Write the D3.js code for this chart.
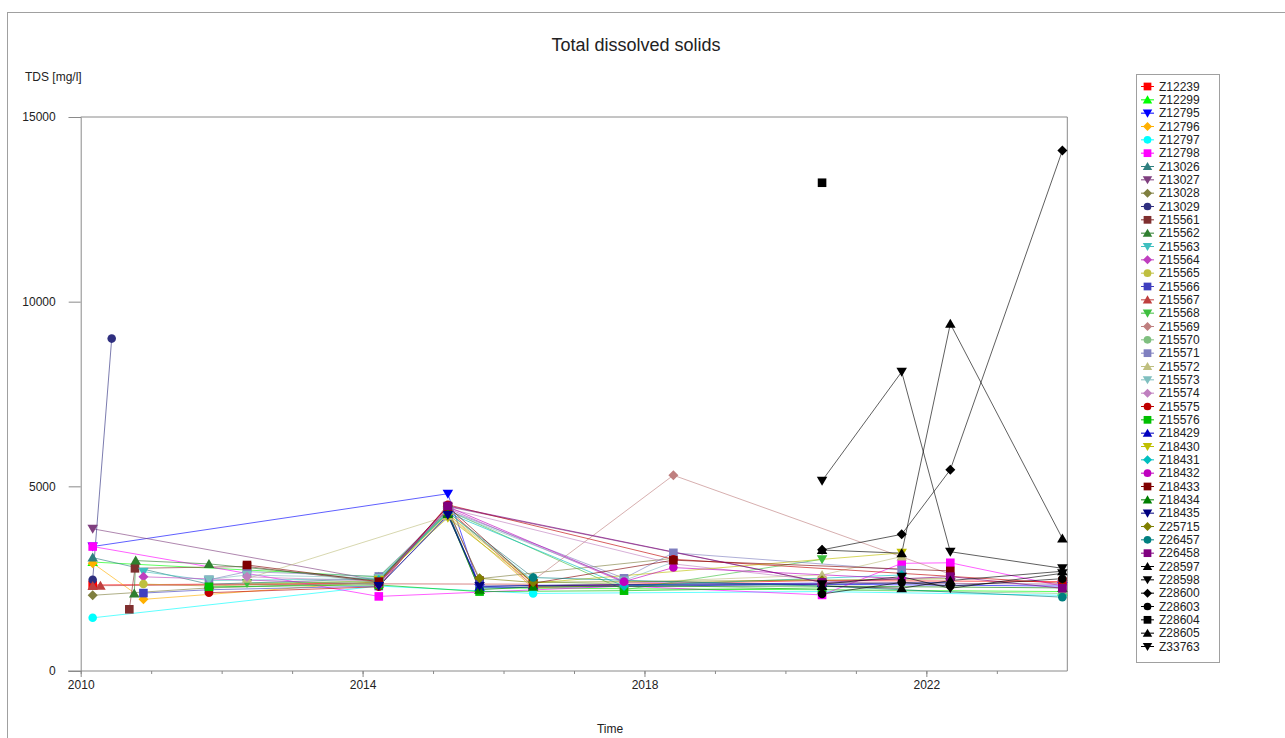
<!DOCTYPE html>
<html>
<head>
<meta charset="utf-8">
<script src="https://cdn.jsdelivr.net/npm/d3@7"></script>
<style>
  html, body { margin: 0; padding: 0; background: #fff; }
  svg { display: block; font-family: "Liberation Sans", Arial, sans-serif; }
</style>
</head>
<body>
<svg id="chart" width="1285" height="738"></svg>
<script>
// Station identifiers, in legend order
const stations = ["Z12239","Z12299","Z12795","Z12796","Z12797","Z12798","Z13026","Z13027","Z13028","Z13029",
  "Z15561","Z15562","Z15563","Z15564","Z15565","Z15566","Z15567","Z15568","Z15569","Z15570",
  "Z15571","Z15572","Z15573","Z15574","Z15575","Z15576","Z18429","Z18430","Z18431","Z18432",
  "Z18433","Z18434","Z18435","Z25715","Z26457","Z26458","Z28597","Z28598","Z28600","Z28603",
  "Z28604","Z28605","Z33763"];

const colors = ["#ff0000","#00ff00","#0000ff","#ffb000","#00ffff","#ff00ff","#2f7f7f","#7f3f7f","#7f7f3f","#2f2f7f",
  "#7f2f2f","#2f7f2f","#3fbfbf","#bf3fbf","#bfbf3f","#3f3fbf","#bf3f3f","#3fbf3f","#bf7f7f","#7fbf7f",
  "#7f7fbf","#bfbf7f","#7fbfbf","#bf7fbf","#bf0000","#00bf00","#0000bf","#bfbf00","#00bfbf","#bf00bf",
  "#7f0000","#007f00","#00007f","#7f7f00","#007f7f","#7f007f","#000000","#000000","#000000","#000000",
  "#000000","#000000","#000000"];

const shapes = ["square","triUp","triDown","diamond","circle","square","triUp","triDown","diamond","circle",
  "square","triUp","triDown","diamond","circle","square","triUp","triDown","diamond","circle",
  "square","triUp","triDown","diamond","circle","square","triUp","triDown","diamond","circle",
  "square","triUp","triDown","diamond","circle","square","triUp","triDown","diamond","circle",
  "square","triUp","triDown"];

// Sample dates (decimal years) and TDS values [mg/l] for each station
const samples = {
  Z12239: [[2010.17,2330],[2014.23,2380],[2015.21,4380],[2016.42,2300],[2020.52,2450],[2023.93,2420]],
  Z12299: [[2010.17,2950],[2014.23,2550],[2015.21,4300],[2015.66,2250],[2020.52,2200],[2023.93,2150]],
  Z12795: [[2010.17,3370],[2015.21,4800],[2015.66,2250],[2020.52,2350],[2023.93,2300]],
  Z12796: [[2010.17,2920],[2010.89,1940],[2014.23,2420],[2015.21,4250],[2016.42,2250],[2020.52,2500]],
  Z12797: [[2010.17,1440],[2014.23,2300],[2016.42,2100],[2020.52,2150],[2023.93,2050]],
  Z12798: [[2010.17,3370],[2014.23,2020],[2017.71,2300],[2020.52,2060],[2021.65,2915],[2022.34,2930],[2023.93,2300]],
  Z13026: [[2010.17,3070],[2011.82,2350],[2014.23,2500],[2015.21,4300],[2016.42,2530]],
  Z13027: [[2010.17,3850],[2014.23,2450],[2015.21,4450],[2020.52,2400],[2023.93,2350]],
  Z13028: [[2010.17,2050],[2011.82,2250],[2014.23,2400],[2015.21,4350],[2015.66,2500],[2018.41,3050]],
  Z13029: [[2010.17,2470],[2010.44,9000]],
  Z15561: [[2010.69,1670],[2010.77,2780],[2012.36,2830],[2014.23,2400],[2015.21,4400],[2015.66,2450]],
  Z15562: [[2010.76,2100],[2010.78,2990],[2011.82,2900],[2014.23,2450],[2015.21,4280],[2015.66,2200]],
  Z15563: [[2010.89,2690],[2011.82,2450],[2014.23,2500],[2015.21,4300],[2016.42,2450]],
  Z15564: [[2010.89,2550],[2014.23,2350],[2015.21,4400],[2017.71,2400],[2020.52,2350]],
  Z15565: [[2010.89,2355],[2011.82,2300],[2014.23,2450],[2015.21,4250],[2016.42,2400]],
  Z15566: [[2010.89,2110],[2011.82,2200],[2014.23,2300],[2015.21,4200],[2015.66,2350]],
  Z15567: [[2010.17,2300],[2010.28,2310],[2011.82,2330],[2014.23,2360],[2016.42,2350]],
  Z15568: [[2012.36,2380],[2014.23,2420],[2015.21,4350],[2017.71,2200],[2020.52,3025]],
  Z15569: [[2016.42,2450],[2018.41,5300],[2022.34,2620]],
  Z15570: [[2011.82,2250],[2014.23,2380],[2015.21,4300],[2016.42,2420],[2020.52,2200],[2023.93,2100]],
  Z15571: [[2011.82,2470],[2012.36,2690],[2014.23,2560],[2015.21,4350],[2017.71,2510],[2018.41,3200],[2021.65,2735]],
  Z15572: [[2012.36,2500],[2015.21,4200],[2016.42,2300],[2020.52,2600],[2021.65,3100]],
  Z15573: [[2011.82,2480],[2012.36,2600],[2014.23,2520],[2015.21,4320],[2017.71,2450],[2018.41,2950]],
  Z15574: [[2012.36,2550],[2014.23,2430],[2015.21,4400],[2018.41,2900],[2020.52,2450]],
  Z15575: [[2011.82,2120],[2014.23,2280],[2015.21,4500],[2018.41,3025],[2023.93,2375]],
  Z15576: [[2011.82,2280],[2014.23,2330],[2015.66,2150],[2017.71,2175],[2020.52,2250]],
  Z18429: [[2015.21,4300],[2015.66,2280],[2016.42,2320],[2020.52,2380]],
  Z18430: [[2014.23,2470],[2015.21,4150],[2016.42,2380],[2021.65,3200]],
  Z18431: [[2014.23,2465],[2015.21,4280],[2017.71,2300],[2021.65,2600]],
  Z18432: [[2014.23,2350],[2015.21,4450],[2017.71,2420],[2018.41,2800],[2021.65,2500]],
  Z18433: [[2012.36,2870],[2014.23,2420],[2015.21,4450],[2016.42,2375],[2018.41,3000],[2022.34,2710]],
  Z18434: [[2015.21,4250],[2015.66,2200],[2016.42,2280],[2020.52,2300],[2023.93,2250]],
  Z18435: [[2014.23,2300],[2015.21,4225],[2015.66,2300],[2020.52,2350],[2022.34,2400]],
  Z25715: [[2015.66,2510],[2016.42,2400],[2020.52,2460],[2022.34,2500]],
  Z26457: [[2016.42,2530],[2020.52,2300],[2023.93,2000]],
  Z26458: [[2015.21,4470],[2020.52,2400],[2022.34,2555],[2023.93,2240]],
  Z28597: [[2020.52,2300],[2021.65,2240],[2022.34,2450],[2023.93,2700]],
  Z28598: [[2020.52,2350],[2021.65,2555],[2022.34,2240],[2023.93,2645]],
  Z28600: [[2020.52,3280],[2021.65,3700],[2022.34,5450],[2023.93,14090]],
  Z28603: [[2020.52,2085],[2021.65,2400],[2022.34,2300],[2023.93,2500]],
  Z28604: [[2020.52,13220]],
  Z28605: [[2020.52,3275],[2021.65,3190],[2022.34,9400],[2023.93,3590]],
  Z33763: [[2020.52,5150],[2021.65,8100],[2022.34,3230],[2023.93,2780]]
};

const yearTicks = [2010,2011,2012,2013,2014,2015,2016,2017,2018,2019,2020,2021,2022,2023];
const yearLabels = [2010,2014,2018,2022];
const valueTicks = [0,5000,10000,15000];

const title = "Total dissolved solids";
const yTitle = "TDS [mg/l]";
const xTitle = "Time";

const svg = d3.select("#chart");
const axisColor = "#8a8a8a";
const textColor = "#222";

// outer frame
svg.append("rect").attr("x", 7.5).attr("y", 12.5).attr("width", 1300).attr("height", 760)
  .attr("fill", "none").attr("stroke", "#a0a0a0");

const x = d3.scaleLinear().domain([2010, 2024]).range([80.7, 1067.3]);
const y = d3.scaleLinear().domain([0, 15000]).range([671, 117]);

// plot box (top and right edges)
svg.append("path")
  .attr("d", `M${x(2010)},${y(15000)}H${x(2024)}V${y(0)}`)
  .attr("fill", "none").attr("stroke", axisColor);

// x axis: minor yearly ticks, then labelled major ticks
const gx = svg.append("g").attr("transform", `translate(0,${y(0)})`);
gx.call(d3.axisBottom(x).tickValues(yearTicks).tickSize(3).tickFormat(""));
const gx2 = svg.append("g").attr("transform", `translate(0,${y(0)})`);
gx2.call(d3.axisBottom(x).tickValues(yearLabels).tickSize(6).tickPadding(3).tickFormat(d3.format("d")));
[gx, gx2].forEach(g => {
  g.select(".domain").remove();
  g.selectAll("line").attr("stroke", axisColor);
  g.selectAll("text").attr("fill", textColor).attr("font-size", 12)
    .attr("font-family", "'Liberation Sans', Arial, sans-serif");
});
svg.append("line").attr("x1", 68).attr("x2", x(2024)).attr("y1", y(0)).attr("y2", y(0))
  .attr("stroke", axisColor);

// y axis
const gy = svg.append("g").attr("transform", `translate(${x(2010)},0)`);
gy.call(d3.axisLeft(y).tickValues(valueTicks).tickSize(12).tickPadding(13).tickFormat(d3.format("d")));
gy.selectAll("line").attr("stroke", axisColor);
gy.select(".domain").attr("stroke", axisColor);
gy.selectAll("text").attr("fill", textColor).attr("font-size", 12)
  .attr("font-family", "'Liberation Sans', Arial, sans-serif");

// titles
svg.append("text").attr("x", 636).attr("y", 51).attr("text-anchor", "middle")
  .attr("font-size", 18).attr("fill", textColor).text(title);
svg.append("text").attr("x", 25).attr("y", 81).attr("font-size", 12)
  .attr("fill", textColor).text(yTitle);
svg.append("text").attr("x", 610).attr("y", 733).attr("text-anchor", "middle")
  .attr("font-size", 12).attr("fill", textColor).text(xTitle);

// marker outlines
function symbolPath(shape, s) {
  switch (shape) {
    case "square": return `M${-s},${-s}H${s}V${s}H${-s}Z`;
    case "triUp": return `M0,${-s}L${s * 1.05},${s * 0.8}H${-s * 1.05}Z`;
    case "triDown": return `M0,${s}L${s * 1.05},${-s * 0.8}H${-s * 1.05}Z`;
    case "diamond": return `M0,${-s}L${s},0L0,${s}L${-s},0Z`;
    default: {
      const p = d3.path(); p.arc(0, 0, s * 0.95, 0, 2 * Math.PI); p.closePath(); return p.toString();
    }
  }
}
const markerSize = { square: 4.3, triUp: 5, triDown: 5, diamond: 5, circle: 4.5 };

const series = stations.map((name, i) => ({
  name, color: colors[i], shape: shapes[i],
  points: samples[name].map(([t, v]) => ({ t, v }))
}));

const line = d3.line().x(d => x(d.t)).y(d => y(d.v));
const plot = svg.append("g");

// connecting lines
plot.selectAll("path.series").data(series).join("path")
  .attr("class", "series")
  .attr("d", d => d.points.length > 1 ? line(d.points) : null)
  .attr("fill", "none").attr("stroke", d => d.color)
  .attr("stroke-width", 0.9).attr("stroke-opacity", 0.7);

// markers
series.forEach(s => {
  plot.append("g").selectAll("path").data(s.points).join("path")
    .attr("transform", d => `translate(${x(d.t)},${y(d.v)})`)
    .attr("d", symbolPath(s.shape, markerSize[s.shape]))
    .attr("fill", s.color);
});

// legend
const lg = svg.append("g");
lg.append("rect").attr("x", 1136.5).attr("y", 74.5).attr("width", 83).attr("height", 588)
  .attr("fill", "#fff").attr("stroke", "#a0a0a0");
const ly = d3.scalePoint().domain(stations).range([86.5, 646.5]);
const items = lg.selectAll("g.item").data(series).join("g")
  .attr("class", "item").attr("transform", d => `translate(0,${ly(d.name)})`);
items.append("line").attr("x1", 1141).attr("x2", 1154).attr("y1", 0).attr("y2", 0)
  .attr("stroke", d => d.color).attr("stroke-width", 1);
items.append("path").attr("transform", "translate(1147.5,0)")
  .attr("d", d => symbolPath(d.shape, markerSize[d.shape] * 0.9))
  .attr("fill", d => d.color);
items.append("text").attr("x", 1159).attr("y", 4.3).attr("font-size", 12)
  .attr("fill", textColor).text(d => d.name);
</script>
</body>
</html>
